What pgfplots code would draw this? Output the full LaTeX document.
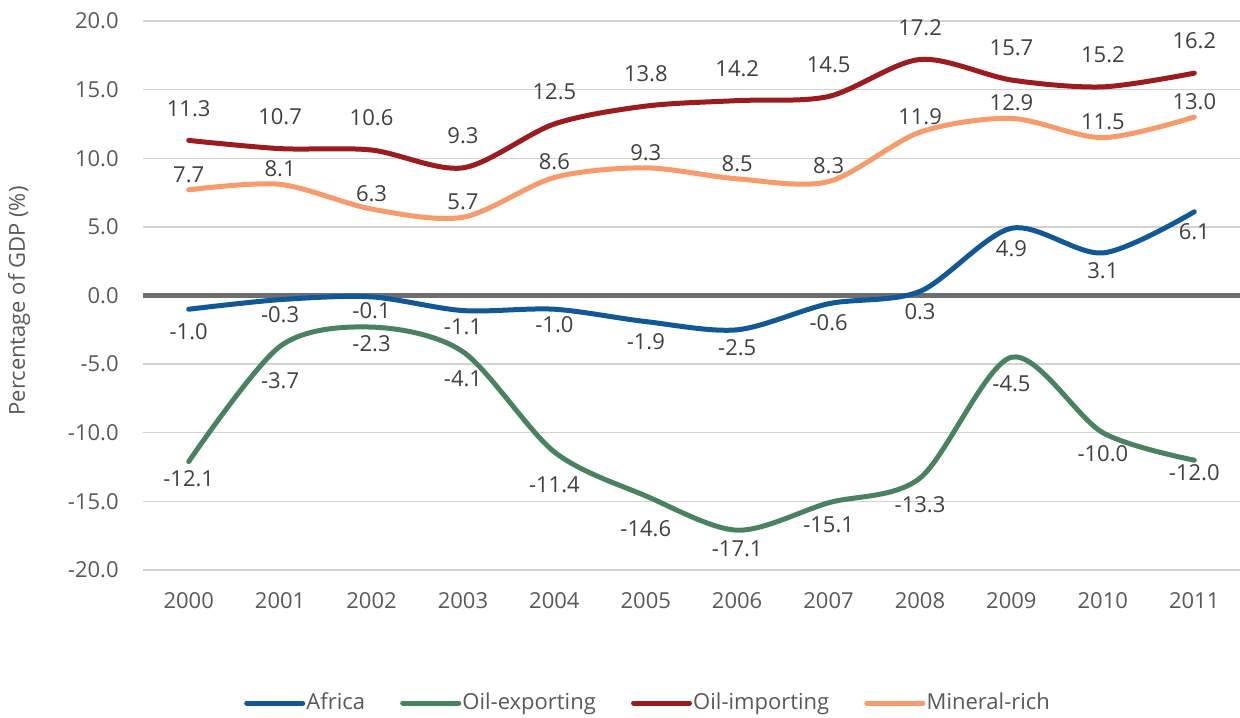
\documentclass[border=0pt]{standalone}
\usepackage{fontspec}
\setmainfont{Open Sans}
\usepackage{pgfplots}
\pgfplotsset{compat=1.18}

\definecolor{africa}{RGB}{16,88,150}
\definecolor{oilexp}{RGB}{73,130,96}
\definecolor{oilimp}{RGB}{155,27,31}
\definecolor{mineral}{RGB}{247,155,108}
\definecolor{gridgray}{RGB}{210,210,210}
\definecolor{zerogray}{RGB}{109,110,113}
\definecolor{ticktext}{RGB}{89,89,89}
\definecolor{labeltext}{RGB}{64,64,64}

% year, value, label offset (pt)
\pgfplotstableread{
x y dy
2000 -1.0 -11
2001 -0.3 -7.5
2002 -0.1 -7
2003 -1.1 -8
2004 -1.0 -7.5
2005 -1.9 -10
2006 -2.5 -9
2007 -0.6 -9.5
2008 0.3 -10
2009 4.9 -10
2010 3.1 -9
2011 6.1 -10
}\africa
\pgfplotstableread{
x y dy
2000 -12.1 -8.5
2001 -3.7 -17
2002 -2.3 -8.5
2003 -4.1 -13.5
2004 -11.4 -16.5
2005 -14.6 -16.5
2006 -17.1 -9.5
2007 -15.1 -11
2008 -13.3 -13.5
2009 -4.5 -13
2010 -10.0 -10.5
2011 -12.0 -6
}\oilexp
\pgfplotstableread{
x y dy
2000 11.3 16
2001 10.7 16
2002 10.6 16
2003 9.3 16
2004 12.5 16
2005 13.8 16
2006 14.2 16
2007 14.5 16
2008 17.2 16
2009 15.7 16
2010 15.2 16
2011 16.2 16
}\oilimp
\pgfplotstableread{
x y dy
2000 7.7 7.75
2001 8.1 7.75
2002 6.3 7.75
2003 5.7 7.75
2004 8.6 7.75
2005 9.3 7.75
2006 8.5 7.75
2007 8.3 7.75
2008 11.9 7.75
2009 12.9 7.75
2010 11.5 7.75
2011 13.0 7.75
}\mineral

\begin{document}
\begin{tikzpicture}
\begin{axis}[
    scale only axis,
    width=548.5pt, height=274.5pt,
    xmin=1999.5, xmax=2011.5,
    ymin=-20, ymax=20,
    xtick={2000,...,2011},
    ytick={-20,-15,...,20},
    axis line style={draw=none},
    tick style={draw=none},
    ymajorgrids,
    major grid style={line width=0.65pt, color=gridgray},
    extra y ticks={0},
    extra y tick labels={},
    extra y tick style={grid=major, major grid style={line width=2.6pt, color=zerogray}},
    /pgf/number format/assume math mode=true,
    xticklabel style={/pgf/number format/1000 sep={}, inner sep=0pt, anchor=north, yshift=-11pt,
        font=\fontsize{11}{13}\selectfont, text=ticktext},
    yticklabel style={/pgf/number format/.cd, fixed, fixed zerofill, precision=1,
        /tikz/.cd, inner sep=0pt, anchor=east, xshift=-12pt,
        font=\fontsize{11}{13}\selectfont, text=ticktext},
    ylabel={Percentage of GDP (\%)},
    ylabel style={at={(axis description cs:-0.113,0.49)}, anchor=center,
        font=\fontsize{11}{13}\selectfont, text=ticktext},
    clip=false,
    every axis plot/.append style={line width=2.5pt, line cap=round, smooth},
    nodes near coords,
    point meta=y,
    visualization depends on={\thisrow{dy} \as \dy},
    nodes near coords style={/pgf/number format/.cd, fixed, fixed zerofill, precision=1,
        /tikz/.cd, anchor=center, yshift=\dy pt, inner sep=0pt,
        font=\fontsize{11}{13}\selectfont, text=labeltext},
    legend columns=-1,
    legend style={at={(axis description cs:0.46,-0.2423)}, anchor=center, draw=none,
        font=\fontsize{11}{13}\selectfont, text=ticktext,
        nodes={inner sep=0.6pt},
        /tikz/every even column/.append style={column sep=17pt}},
    legend image code/.code={\draw[#1, line width=2.5pt] (0pt,0pt) -- (28pt,0pt);},
]
    \addplot[africa] table[x=x, y=y] {\africa};
    \addlegendentry{Africa}
    \addplot[oilexp] table[x=x, y=y] {\oilexp};
    \addlegendentry{Oil-exporting}
    \addplot[oilimp] table[x=x, y=y] {\oilimp};
    \addlegendentry{Oil-importing}
    \addplot[mineral] table[x=x, y=y] {\mineral};
    \addlegendentry{Mineral-rich}
\end{axis}
\pgfresetboundingbox
\path[use as bounding box] ([xshift=-71.5pt, yshift=-73.5pt]current axis.south west)
    rectangle ([yshift=10.5pt]current axis.north east);
\end{tikzpicture}
\end{document}
